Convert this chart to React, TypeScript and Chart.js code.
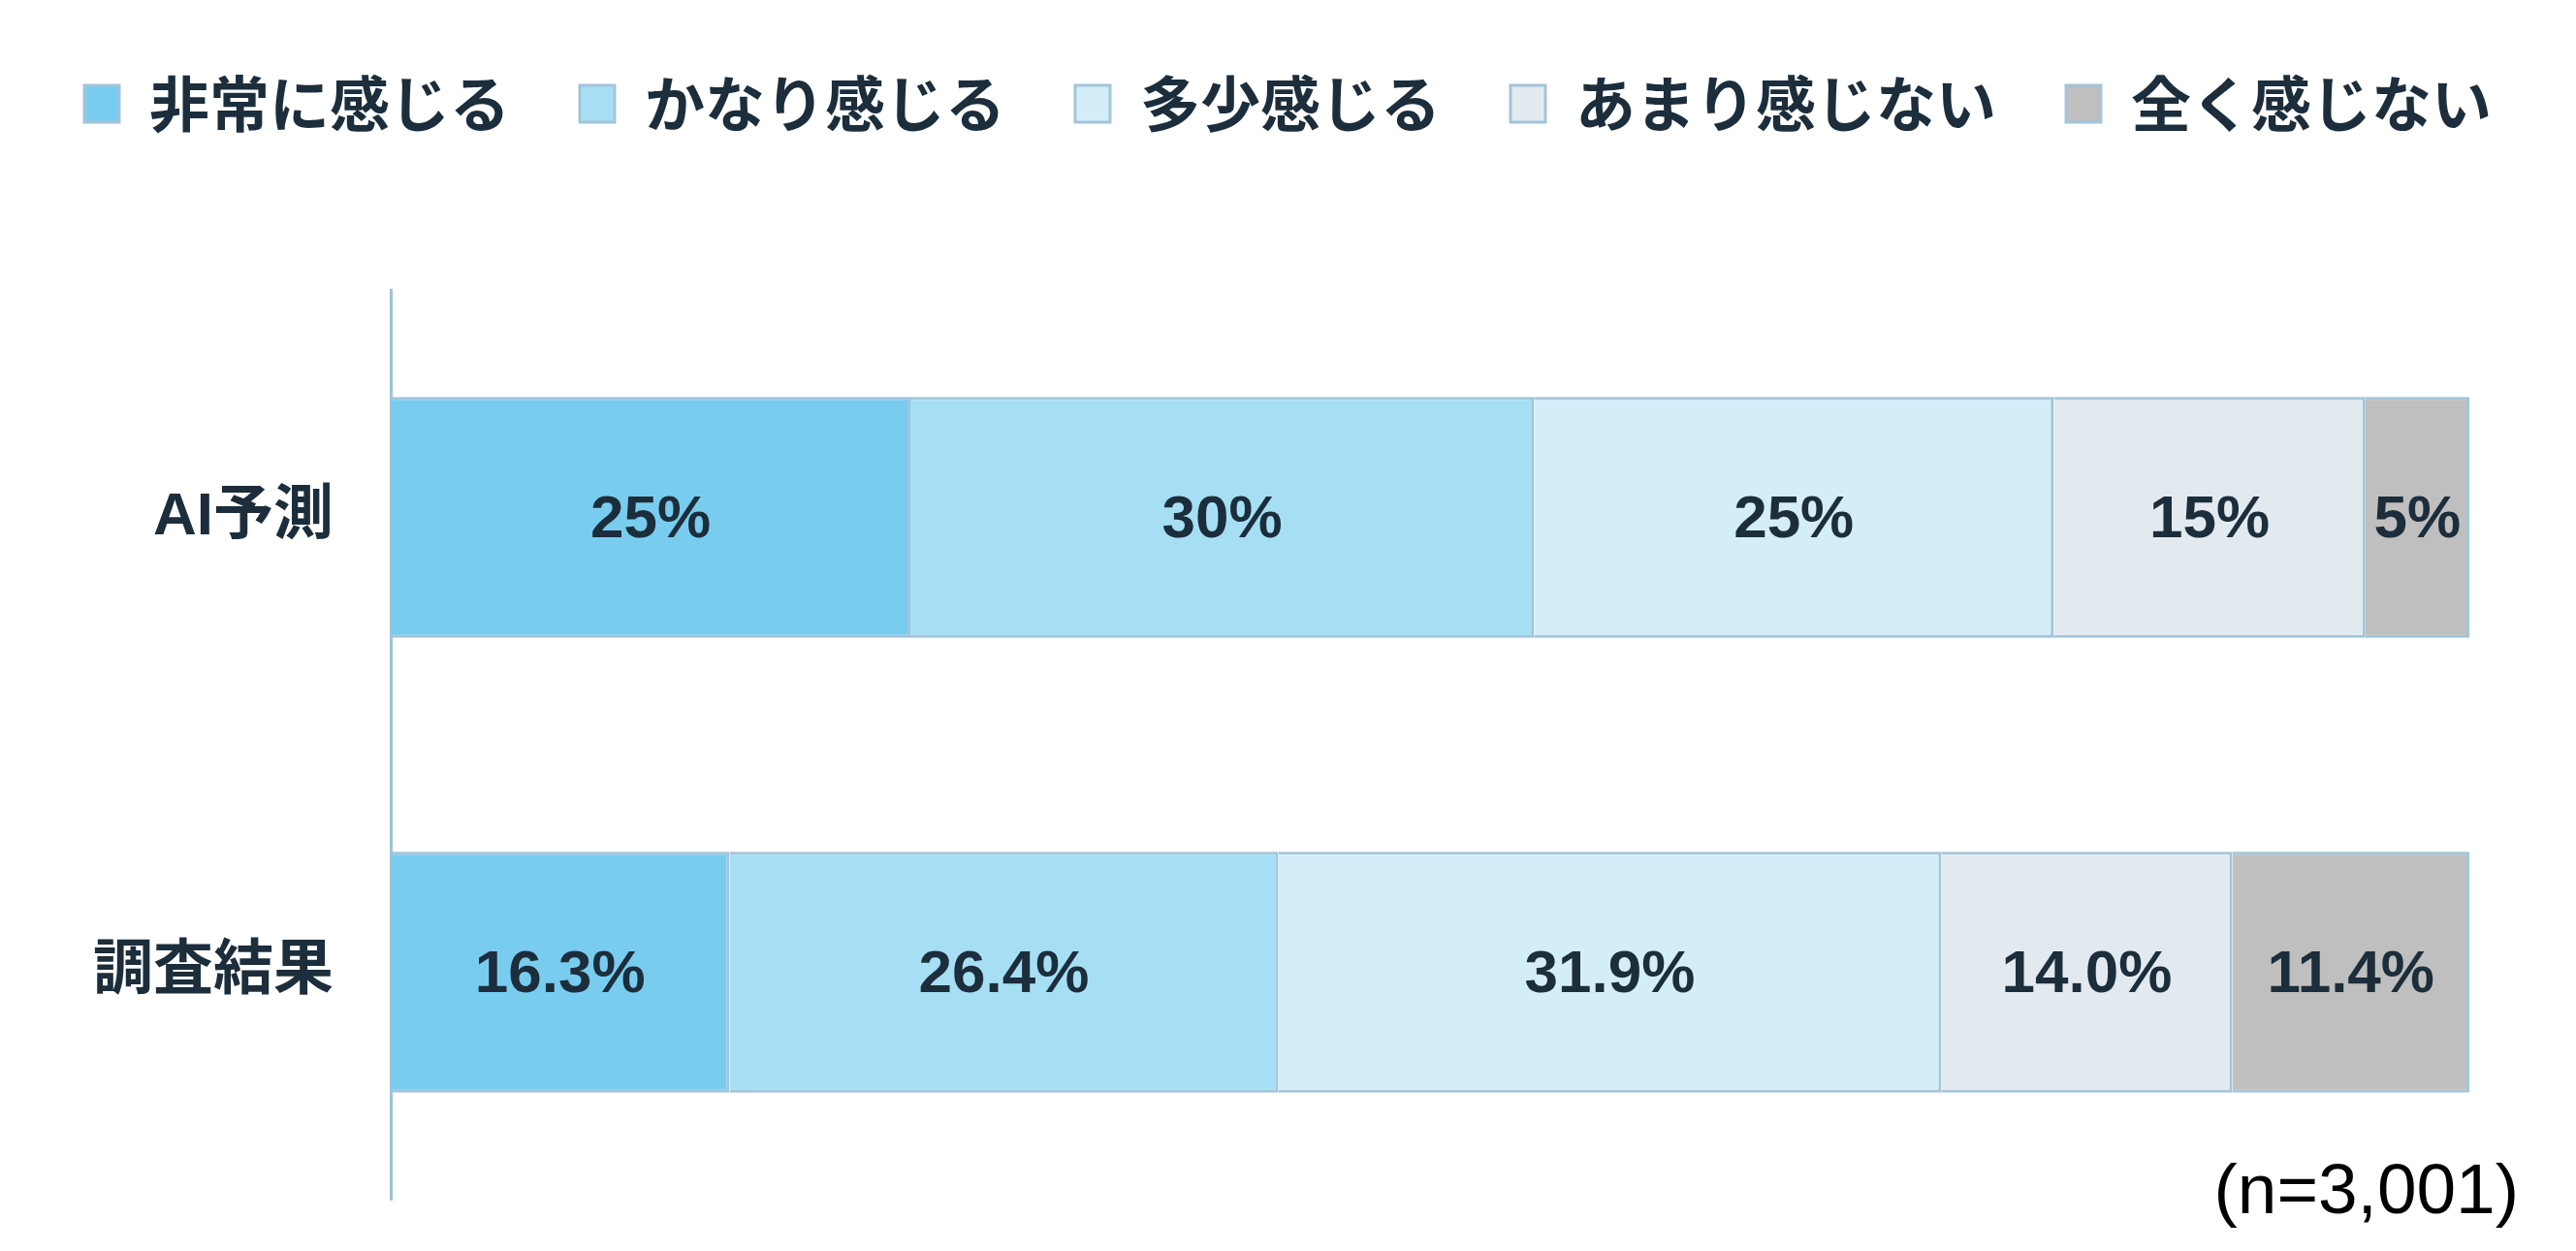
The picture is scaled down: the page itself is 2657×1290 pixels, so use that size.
import React, { useEffect, useRef } from "react";
import { Chart, registerables } from "chart.js";

Chart.register(...registerables);

const categories = ["AI予測", "調査結果"];
const seriesNames = ["非常に感じる", "かなり感じる", "多少感じる", "あまり感じない", "全く感じない"];
const seriesColors = ["#78cdef", "#a6dff4", "#d4eef9", "#e3eaef", "#bfbfbf"];
const aiValues = [25, 30, 25, 15, 5];
const surveyValues = [16.3, 26.4, 31.9, 14.0, 11.4];
const labelDecimals = [0, 1];
const noteText = "(n=3,001)";

const TEXT_COLOR = "#1c2d3b";
const BORDER_COLOR = "#a3c4da";

const barLabelPlugin = {
  id: "barLabels",
  afterDatasetsDraw(chart: any) {
    const ctx = chart.ctx;
    ctx.save();
    ctx.fillStyle = TEXT_COLOR;
    ctx.font = "bold 62px 'Liberation Sans', 'Noto Sans CJK JP', sans-serif";
    ctx.textAlign = "center";
    ctx.textBaseline = "middle";
    chart.data.datasets.forEach((ds: any, di: number) => {
      const meta = chart.getDatasetMeta(di);
      meta.data.forEach((el: any, i: number) => {
        const v = ds.data[i];
        const txt = v.toFixed(labelDecimals[i]) + "%";
        const cx = (el.x + el.base) / 2;
        ctx.fillText(txt, cx, el.y + 3);
      });
    });
    ctx.restore();
  },
};

const notePlugin = {
  id: "note",
  afterDraw(chart: any) {
    const ctx = chart.ctx;
    ctx.save();
    ctx.fillStyle = "#000000";
    ctx.font = "73px 'Liberation Sans', sans-serif";
    ctx.textAlign = "right";
    ctx.textBaseline = "alphabetic";
    ctx.fillText(noteText, 2598, 1251);
    ctx.restore();
  },
};

const legendSpacePlugin = {
  id: "legendSpace",
  beforeInit(chart: any) {
    const legend = chart.legend;
    if (legend && !legend._patched) {
      const orig = legend.fit;
      legend.fit = function () {
        orig.call(this);
        this.height += 151;
      };
      legend._patched = true;
    }
  },
};

export default function App() {
  const ref = useRef<HTMLCanvasElement | null>(null);
  useEffect(() => {
    if (!ref.current) return;
    const datasets = seriesNames.map((name, si) => ({
      label: name,
      data: [aiValues[si], surveyValues[si]],
      backgroundColor: seriesColors[si],
      borderColor: BORDER_COLOR,
      borderWidth: 3,
      borderSkipped: "start" as const,
      barPercentage: 0.53,
      categoryPercentage: 1,
    }));
    const chart = new Chart(ref.current, {
      type: "bar",
      data: { labels: categories, datasets },
      plugins: [barLabelPlugin, notePlugin],
      options: {
        indexAxis: "y",
        responsive: false,
        animation: false,
        layout: { padding: { top: 4, bottom: 53, left: 0, right: 0 } },
        plugins: {
          legend: {
            display: true,
            position: "top",
            align: "center",
            labels: {
              boxWidth: 36,
              boxHeight: 38,
              padding: 72,
              color: TEXT_COLOR,
              font: { family: "'Noto Sans CJK JP', sans-serif", size: 62, weight: "bold" },
            },
          },
          tooltip: { enabled: false },
        },
        scales: {
          x: {
            stacked: true,
            display: false,
            min: 0,
            max: 100,
          },
          y: {
            stacked: true,
            grid: { display: false, drawTicks: false },
            border: { display: true, color: "#9fc3d9", width: 3 },
            ticks: {
              color: TEXT_COLOR,
              padding: 59,
              font: { family: "'Liberation Sans', 'Noto Sans CJK JP', sans-serif", size: 62, weight: "bold" },
            },
            afterFit(scale: any) {
              scale.width = 403;
              scale.paddingTop = 0;
              scale.paddingBottom = 0;
            },
          },
          yRight: {
            type: "category",
            position: "right",
            display: true,
            grid: { display: false, drawTicks: false },
            border: { display: false },
            ticks: { display: false },
            afterFit(scale: any) {
              scale.width = 110;
              scale.paddingTop = 0;
              scale.paddingBottom = 0;
            },
          },
        },
      },
    } as any);
    return () => chart.destroy();
  }, []);
  return (
    <div style={{ position: "fixed", left: 0, top: 0, width: 2657, height: 1290, background: "#fff" }}>
      <canvas ref={ref} width={2657} height={1290} style={{ display: "block" }} />
    </div>
  );
}

Chart.register(legendSpacePlugin);
